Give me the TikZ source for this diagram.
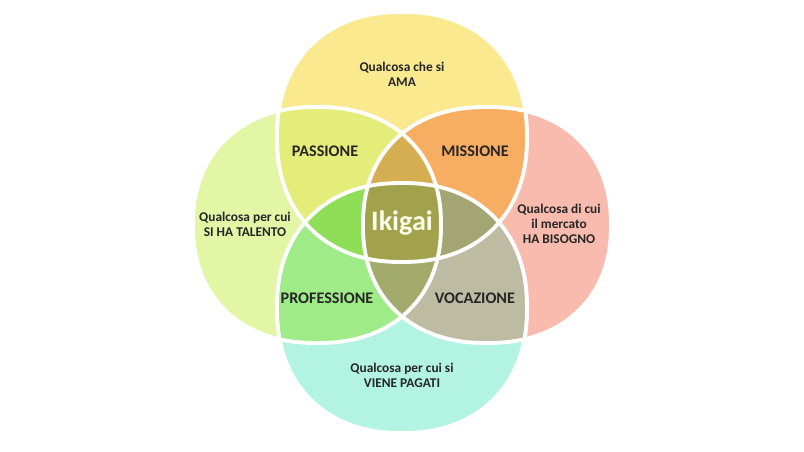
\documentclass[tikz,border=0pt]{standalone}
\usepackage{fontspec}
\setmainfont{Carlito}
\begin{document}
\begin{tikzpicture}[x=0.02cm,y=-0.02cm,
  lbl/.style={align=center,font=\bfseries\fontsize{7.6}{8.4}\selectfont,text=black!85},
  big/.style={font=\bfseries\fontsize{9.2}{10}\selectfont,text=black!85}]
\definecolor{cT}{HTML}{FAE98F}\definecolor{cL}{HTML}{E2F6A6}
\definecolor{cR}{HTML}{F8BBAD}\definecolor{cB}{HTML}{B2F3E2}
\definecolor{cTL}{HTML}{E4EC7A}\definecolor{cTR}{HTML}{F7AE62}
\definecolor{cLB}{HTML}{9EEB88}\definecolor{cRB}{HTML}{BDBBA2}
\definecolor{cTLR}{HTML}{D6AE52}\definecolor{cTLB}{HTML}{8EDE58}
\definecolor{cTRB}{HTML}{A3A672}\definecolor{cLRB}{HTML}{A2AA6C}
\definecolor{cQ}{HTML}{A2A24C}
\useasboundingbox[fill=white] (0,0) rectangle (804,452);
\def\shp#1#2#3#4{plot[domain=0.5:360.5,samples=121,smooth] ({#1+#3*sign(cos(\x))*abs(cos(\x))^0.9},{#2+#4*sign(sin(\x))*abs(sin(\x))^0.9}) -- cycle}
\def\T{\shp{402}{137}{125}{125}}
\def\L{\shp{317}{225}{124}{118}}
\def\R{\shp{487}{225}{124}{118}}
\def\B{\shp{402}{308}{125}{125}}
\fill[cL] \L; \fill[cR] \R; \fill[cB] \B; \fill[cT] \T;
\begin{scope}\clip \T; \fill[cTL] \L; \fill[cTR] \R; \fill[cQ] \B; \end{scope}
\begin{scope}\clip \B; \fill[cLB] \L; \fill[cRB] \R; \end{scope}
\begin{scope}\clip \L; \clip \R; \fill[cQ] \T; \fill[cQ] \B; \end{scope}
\begin{scope}\clip \T; \clip \L; \fill[cTLR] \R; \fill[cTLB] \B; \end{scope}
\begin{scope}\clip \B; \clip \R; \fill[cTRB] \T; \fill[cLRB] \L; \end{scope}
\begin{scope}\clip \T; \clip \L; \clip \R; \fill[cQ] \B; \end{scope}
\draw[white,line width=2.2pt] \T; \draw[white,line width=2.2pt] \L;
\draw[white,line width=2.2pt] \R; \draw[white,line width=2.2pt] \B;
\node[lbl] (ama) at (402,74) {Qualcosa che si\\AMA};
\node[big] (pas) at (325,151) {PASSIONE};
\node[big] (mis) at (475,151) {MISSIONE};
\node[lbl] (tal) at (245,224) {Qualcosa per cui\\SI HA TALENTO};
\node[lbl] (bis) at (559,224) {Qualcosa di cui\\il mercato\\HA BISOGNO};
\node[font=\bfseries\fontsize{16}{17}\selectfont,text=white!92!yellow] (iki) at (402,223) {Ikigai};
\node[big] (pro) at (327,298) {PROFESSIONE};
\node[big] (voc) at (475,298) {VOCAZIONE};
\node[lbl] (pag) at (402,375) {Qualcosa per cui si\\VIENE PAGATI};
\end{tikzpicture}
\end{document}
